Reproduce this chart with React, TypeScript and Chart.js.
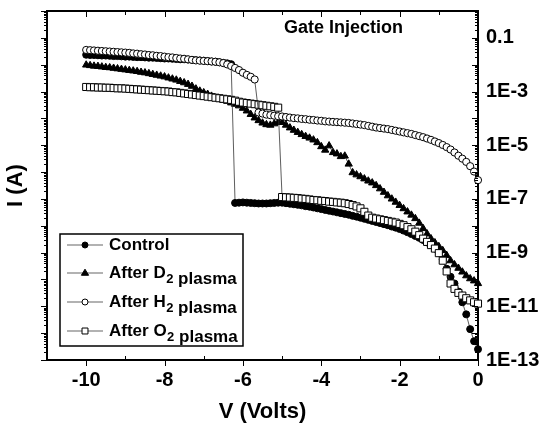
import React, { useEffect, useRef } from "react";
import { Chart, registerables } from "chart.js";

Chart.register(...registerables);

const FONT = '"Liberation Sans", Arial, Helvetica, sans-serif';

const voltages = [
  -10.0, -9.9, -9.8, -9.7, -9.6, -9.5, -9.4, -9.3, -9.2, -9.1,
  -9.0, -8.9, -8.8, -8.7, -8.6, -8.5, -8.4, -8.3, -8.2, -8.1,
  -8.0, -7.9, -7.8, -7.7, -7.6, -7.5, -7.4, -7.3, -7.2, -7.1,
  -7.0, -6.9, -6.8, -6.7, -6.6, -6.5, -6.4, -6.3, -6.2, -6.1,
  -6.0, -5.9, -5.8, -5.7, -5.6, -5.5, -5.4, -5.3, -5.2, -5.1,
  -5.0, -4.9, -4.8, -4.7, -4.6, -4.5, -4.4, -4.3, -4.2, -4.1,
  -4.0, -3.9, -3.8, -3.7, -3.6, -3.5, -3.4, -3.3, -3.2, -3.1,
  -3.0, -2.9, -2.8, -2.7, -2.6, -2.5, -2.4, -2.3, -2.2, -2.1,
  -2.0, -1.9, -1.8, -1.7, -1.6, -1.5, -1.4, -1.3, -1.2, -1.1,
  -1.0, -0.9, -0.8, -0.7, -0.6, -0.5, -0.4, -0.3, -0.2, -0.1,
  0.0,
];

// log10 of current (A)
const controlLogI = [
  -1.63, -1.64, -1.64, -1.65, -1.66, -1.66, -1.67, -1.68, -1.68, -1.69,
  -1.70, -1.70, -1.71, -1.72, -1.72, -1.73, -1.74, -1.74, -1.75, -1.76,
  -1.77, -1.77, -1.78, -1.79, -1.80, -1.80, -1.81, -1.82, -1.83, -1.84,
  -1.85, -1.86, -1.88, -1.89, -1.91, -1.93, -1.95, -1.98, -7.15, -7.14,
  -7.13, -7.14, -7.15, -7.16, -7.17, -7.17, -7.17, -7.16, -7.15, -7.14,
  -7.14, -7.16, -7.18, -7.20, -7.22, -7.24, -7.27, -7.29, -7.32, -7.35,
  -7.38, -7.41, -7.44, -7.47, -7.50, -7.53, -7.56, -7.59, -7.63, -7.66,
  -7.70, -7.74, -7.78, -7.82, -7.86, -7.90, -7.94, -7.98, -8.03, -8.07,
  -8.12, -8.18, -8.24, -8.31, -8.38, -8.45, -8.53, -8.62, -8.72, -8.85,
  -9.00, -9.25, -9.60, -9.90, -10.15, -10.45, -10.85, -11.30, -11.85, -12.30,
  -12.60,
];

const d2LogI = [
  -2.01, -2.03, -2.05, -2.06, -2.08, -2.10, -2.11, -2.13, -2.15, -2.17,
  -2.19, -2.21, -2.23, -2.25, -2.28, -2.30, -2.33, -2.36, -2.39, -2.42,
  -2.45, -2.49, -2.53, -2.57, -2.62, -2.67, -2.73, -2.80, -2.90, -2.98,
  -3.04, -3.10, -3.17, -3.24, -3.28, -3.32, -3.36, -3.42, -3.47, -3.53,
  -3.62, -3.72, -3.85, -3.98, -4.08, -4.17, -4.23, -4.25, -4.20, -4.15,
  -4.15, -4.25, -4.35, -4.44, -4.52, -4.60, -4.67, -4.73, -4.80, -4.90,
  -5.05, -5.18, -5.02, -5.27, -5.32, -5.42, -5.40, -5.70, -6.02, -6.10,
  -6.17, -6.25, -6.33, -6.40, -6.50, -6.62, -6.75, -6.88, -7.00, -7.12,
  -7.24, -7.36, -7.48, -7.60, -7.73, -7.90, -8.10, -8.30, -8.48, -8.63,
  -8.77, -8.92, -9.10, -9.30, -9.45, -9.58, -9.72, -9.86, -9.97, -10.05,
  -10.15,
];

const h2LogI = [
  -1.45, -1.46, -1.47, -1.48, -1.49, -1.50, -1.51, -1.52, -1.53, -1.54,
  -1.55, -1.56, -1.58, -1.59, -1.61, -1.62, -1.64, -1.65, -1.67, -1.68,
  -1.70, -1.72, -1.73, -1.75, -1.77, -1.78, -1.80, -1.82, -1.84, -1.85,
  -1.86, -1.87, -1.88, -1.89, -1.91, -1.94, -1.99, -2.05, -2.12, -2.20,
  -2.30, -2.38, -2.45, -2.55, -3.78, -3.82, -3.86, -3.88, -3.90, -3.92,
  -3.93, -3.95, -3.97, -3.99, -4.00, -4.02, -4.03, -4.05, -4.06, -4.08,
  -4.09, -4.11, -4.12, -4.13, -4.14, -4.15, -4.16, -4.17, -4.19, -4.21,
  -4.23, -4.25, -4.28, -4.31, -4.34, -4.36, -4.38, -4.40, -4.43, -4.46,
  -4.49, -4.52, -4.55, -4.58, -4.62, -4.66, -4.70, -4.75, -4.80, -4.86,
  -4.92, -4.99, -5.07, -5.16, -5.27, -5.39, -5.50, -5.62, -5.78, -5.98,
  -6.30,
];

const o2LogI = [
  -2.83, -2.84, -2.84, -2.85, -2.85, -2.86, -2.86, -2.87, -2.88, -2.88,
  -2.89, -2.90, -2.91, -2.92, -2.93, -2.94, -2.95, -2.96, -2.97, -2.98,
  -2.99, -3.00, -3.02, -3.03, -3.05, -3.07, -3.09, -3.11, -3.13, -3.15,
  -3.17, -3.19, -3.21, -3.23, -3.25, -3.27, -3.29, -3.31, -3.34, -3.38,
  -3.41, -3.43, -3.45, -3.47, -3.49, -3.51, -3.53, -3.55, -3.57, -3.60,
  -6.93, -6.94, -6.95, -6.96, -6.97, -6.99, -7.00, -7.02, -7.04, -7.05,
  -7.07, -7.08, -7.10, -7.11, -7.13, -7.14, -7.16, -7.19, -7.23, -7.28,
  -7.35, -7.48, -7.62, -7.70, -7.73, -7.76, -7.79, -7.82, -7.85, -7.88,
  -7.93, -7.98, -8.05, -8.13, -8.22, -8.35, -8.48, -8.60, -8.72, -8.85,
  -9.02, -9.30, -9.70, -10.15, -10.35, -10.50, -10.60, -10.70, -10.78, -10.85,
  -10.90,
];

const xTickValues = [-10, -8, -6, -4, -2, 0];
const xTickLabels = ["-10", "-8", "-6", "-4", "-2", "0"];
const yTickValues = [1e-1, 1e-3, 1e-5, 1e-7, 1e-9, 1e-11, 1e-13];
const yTickLabels = ["0.1", "1E-3", "1E-5", "1E-7", "1E-9", "1E-11", "1E-13"];

const seriesLabels = ["Control", "After D\u2082 plasma", "After H\u2082 plasma", "After O\u2082 plasma"];
const legendMain = ["Control", "After D", "After H", "After O"];
const legendSub = ["", "2", "2", "2"];
const legendTail = ["", " plasma", " plasma", " plasma"];
const chartTitle = "Gate Injection";
const xTitle = "V (Volts)";
const yTitle = "I (A)";

const X_MIN = -11;
const X_MAX = 0;
const Y_MIN = 1e-13;
const Y_MAX = 1;

function toPoints(logs: number[]) {
  return logs.map((l, i) => ({ x: voltages[i], y: Math.pow(10, l) }));
}

const markerStyles = [
  { pointStyle: "circle", radius: 3.5, fill: "#000", legendRadius: 3 },
  { pointStyle: "triangle", radius: 4.2, fill: "#000", legendRadius: 3.8 },
  { pointStyle: "circle", radius: 3.6, fill: "#fff", legendRadius: 3 },
  { pointStyle: "rect", radius: 5, fill: "#fff", legendRadius: 4.2 },
];

const decorPlugin = {
  id: "decor",
  afterDraw(chart: any) {
    const ctx = chart.ctx as CanvasRenderingContext2D;
    const { left, right, top, bottom } = chart.chartArea;
    const ys = chart.scales.y;
    const xs = chart.scales.x;
    ctx.save();
    ctx.strokeStyle = "#000";
    ctx.lineWidth = 1;
    ctx.beginPath();
    for (let e = -13; e <= 0; e++) {
      for (let k = 1; k <= 9; k++) {
        const v = k * Math.pow(10, e);
        if (v > 1.0001) break;
        const py = Math.round(ys.getPixelForValue(v)) + 0.5;
        const len = k === 1 ? 6 : 3;
        ctx.moveTo(left, py);
        ctx.lineTo(left - len, py);
        ctx.moveTo(right, py);
        ctx.lineTo(right - len, py);
      }
    }
    for (let v = -11; v <= 0; v++) {
      const px = Math.round(xs.getPixelForValue(v)) + 0.5;
      const major = v % 2 === 0;
      ctx.moveTo(px, top);
      ctx.lineTo(px, top + (major ? 6 : 4));
      if (major) {
        ctx.moveTo(px, bottom);
        ctx.lineTo(px, bottom + 6);
      } else {
        ctx.moveTo(px, bottom);
        ctx.lineTo(px, bottom - 4);
      }
    }
    ctx.stroke();

    // chart title inside plot
    ctx.fillStyle = "#000";
    ctx.font = `bold 18px ${FONT}`;
    ctx.textBaseline = "middle";
    ctx.textAlign = "left";
    ctx.fillText(chartTitle, 284, 28);

    // legend box
    const bx = 60, by = 234, bw = 183, bh = 112;
    ctx.fillStyle = "#fff";
    ctx.fillRect(bx, by, bw, bh);
    ctx.lineWidth = 1.5;
    ctx.strokeStyle = "#000";
    ctx.strokeRect(bx, by, bw, bh);
    const rowY = [245, 273, 302, 331];
    for (let i = 0; i < 4; i++) {
      const y = rowY[i];
      ctx.strokeStyle = "#666";
      ctx.lineWidth = 1.2;
      ctx.beginPath();
      ctx.moveTo(67, y);
      ctx.lineTo(103, y);
      ctx.stroke();
      const m = markerStyles[i];
      ctx.strokeStyle = "#000";
      ctx.fillStyle = m.fill;
      ctx.lineWidth = 1;
      ctx.beginPath();
      const r = m.legendRadius;
      if (m.pointStyle === "circle") {
        ctx.arc(85, y, r, 0, Math.PI * 2);
      } else if (m.pointStyle === "triangle") {
        ctx.moveTo(85, y - r);
        ctx.lineTo(85 + r * 0.95, y + r * 0.6);
        ctx.lineTo(85 - r * 0.95, y + r * 0.6);
        ctx.closePath();
      } else {
        const s = r * Math.SQRT1_2;
        ctx.rect(85 - s, y - s, 2 * s, 2 * s);
      }
      ctx.fill();
      ctx.stroke();

      ctx.fillStyle = "#000";
      ctx.font = `bold 17px ${FONT}`;
      ctx.textBaseline = "middle";
      let tx = 109;
      ctx.fillText(legendMain[i], tx, y);
      tx += ctx.measureText(legendMain[i]).width;
      if (legendSub[i]) {
        ctx.font = `bold 13px ${FONT}`;
        ctx.fillText(legendSub[i], tx + 0.5, y + 6);
        tx += ctx.measureText(legendSub[i]).width + 0.5;
      }
      if (legendTail[i]) {
        ctx.font = `bold 17px ${FONT}`;
        ctx.fillText(legendTail[i], tx, y + 6);
      }
    }
    ctx.restore();
  },
};

export default function App() {
  const canvasRef = useRef<HTMLCanvasElement | null>(null);

  useEffect(() => {
    const canvas = canvasRef.current;
    if (!canvas) return;
    Chart.defaults.font.family = FONT;
    Chart.defaults.color = "#000";

    const allLogs = [controlLogI, d2LogI, h2LogI, o2LogI];
    const orders = [2, 3, 0, 1];
    const datasets = allLogs.map((logs, i) => ({
      label: seriesLabels[i],
      data: toPoints(logs),
      yAxisID: "y",
      xAxisID: "x",
      borderColor: "#333",
      borderWidth: 0.8,
      pointStyle: markerStyles[i].pointStyle as any,
      pointRadius: markerStyles[i].radius,
      pointBackgroundColor: markerStyles[i].fill,
      pointBorderColor: "#000",
      pointBorderWidth: 1,
      fill: false,
      tension: 0,
      order: orders[i],
      clip: 8,
    }));

    const noPad = (s: any) => {
      s.paddingTop = 0;
      s.paddingBottom = 0;
      s.paddingLeft = 0;
      s.paddingRight = 0;
    };

    const chart = new Chart(canvas, {
      type: "line",
      data: { datasets },
      options: {
        responsive: false,
        animation: false,
        devicePixelRatio: 1,
        events: [],
        layout: { padding: { top: 11, left: 0, right: 0, bottom: 0 } },
        plugins: {
          legend: { display: false },
          tooltip: { enabled: false },
          title: { display: false },
        },
        scales: {
          x: {
            type: "linear",
            position: "bottom",
            min: X_MIN,
            max: X_MAX,
            afterBuildTicks: (s: any) => {
              s.ticks = xTickValues.map((v) => ({ value: v }));
            },
            afterFit: (s: any) => {
              s.height = 66;
              noPad(s);
            },
            grid: { display: false, drawTicks: false },
            border: { display: true, color: "#000", width: 2 },
            ticks: {
              padding: 8,
              color: "#000",
              font: { size: 20, weight: "bold", family: FONT },
              maxRotation: 0,
              autoSkip: false,
              callback: (v: any) => {
                const idx = xTickValues.indexOf(Number(v));
                return idx >= 0 ? xTickLabels[idx] : "";
              },
            },
            title: {
              display: true,
              text: xTitle,
              color: "#000",
              font: { size: 22, weight: "bold", family: FONT },
              padding: { top: 0, bottom: 1 },
            },
          },
          x2: {
            type: "linear",
            position: "top",
            min: X_MIN,
            max: X_MAX,
            afterFit: (s: any) => {
              s.height = 0;
              noPad(s);
            },
            grid: { display: false, drawTicks: false },
            border: { display: true, color: "#000", width: 2 },
            ticks: { display: false },
          },
          y: {
            type: "logarithmic",
            position: "right",
            min: Y_MIN,
            max: Y_MAX,
            afterBuildTicks: (s: any) => {
              s.ticks = yTickValues.map((v) => ({ value: v }));
            },
            afterFit: (s: any) => {
              s.width = 66;
              noPad(s);
            },
            grid: { display: false, drawTicks: false },
            border: { display: true, color: "#000", width: 2 },
            ticks: {
              padding: 8,
              color: "#000",
              autoSkip: false,
              font: { size: 20, weight: "bold", family: FONT },
              callback: (v: any) => {
                const n = Number(v);
                const idx = yTickValues.findIndex((t) => Math.abs(Math.log10(t) - Math.log10(n)) < 1e-6);
                return idx >= 0 ? yTickLabels[idx] : "";
              },
            },
          },
          yL: {
            type: "logarithmic",
            position: "left",
            min: Y_MIN,
            max: Y_MAX,
            afterFit: (s: any) => {
              s.width = 47;
              noPad(s);
            },
            grid: { display: false, drawTicks: false },
            border: { display: true, color: "#000", width: 2 },
            ticks: { display: false },
            title: {
              display: true,
              text: yTitle,
              color: "#000",
              font: { size: 22, weight: "bold", family: FONT },
              padding: { top: 3, bottom: 0 },
            },
          },
        },
      } as any,
      plugins: [decorPlugin],
    });

    return () => {
      chart.destroy();
    };
  }, []);

  return (
    <div
      style={{
        position: "fixed",
        left: 0,
        top: 0,
        width: 544,
        height: 426,
        background: "#fff",
      }}
    >
      <canvas ref={canvasRef} width={544} height={426} style={{ display: "block" }} />
    </div>
  );
}
